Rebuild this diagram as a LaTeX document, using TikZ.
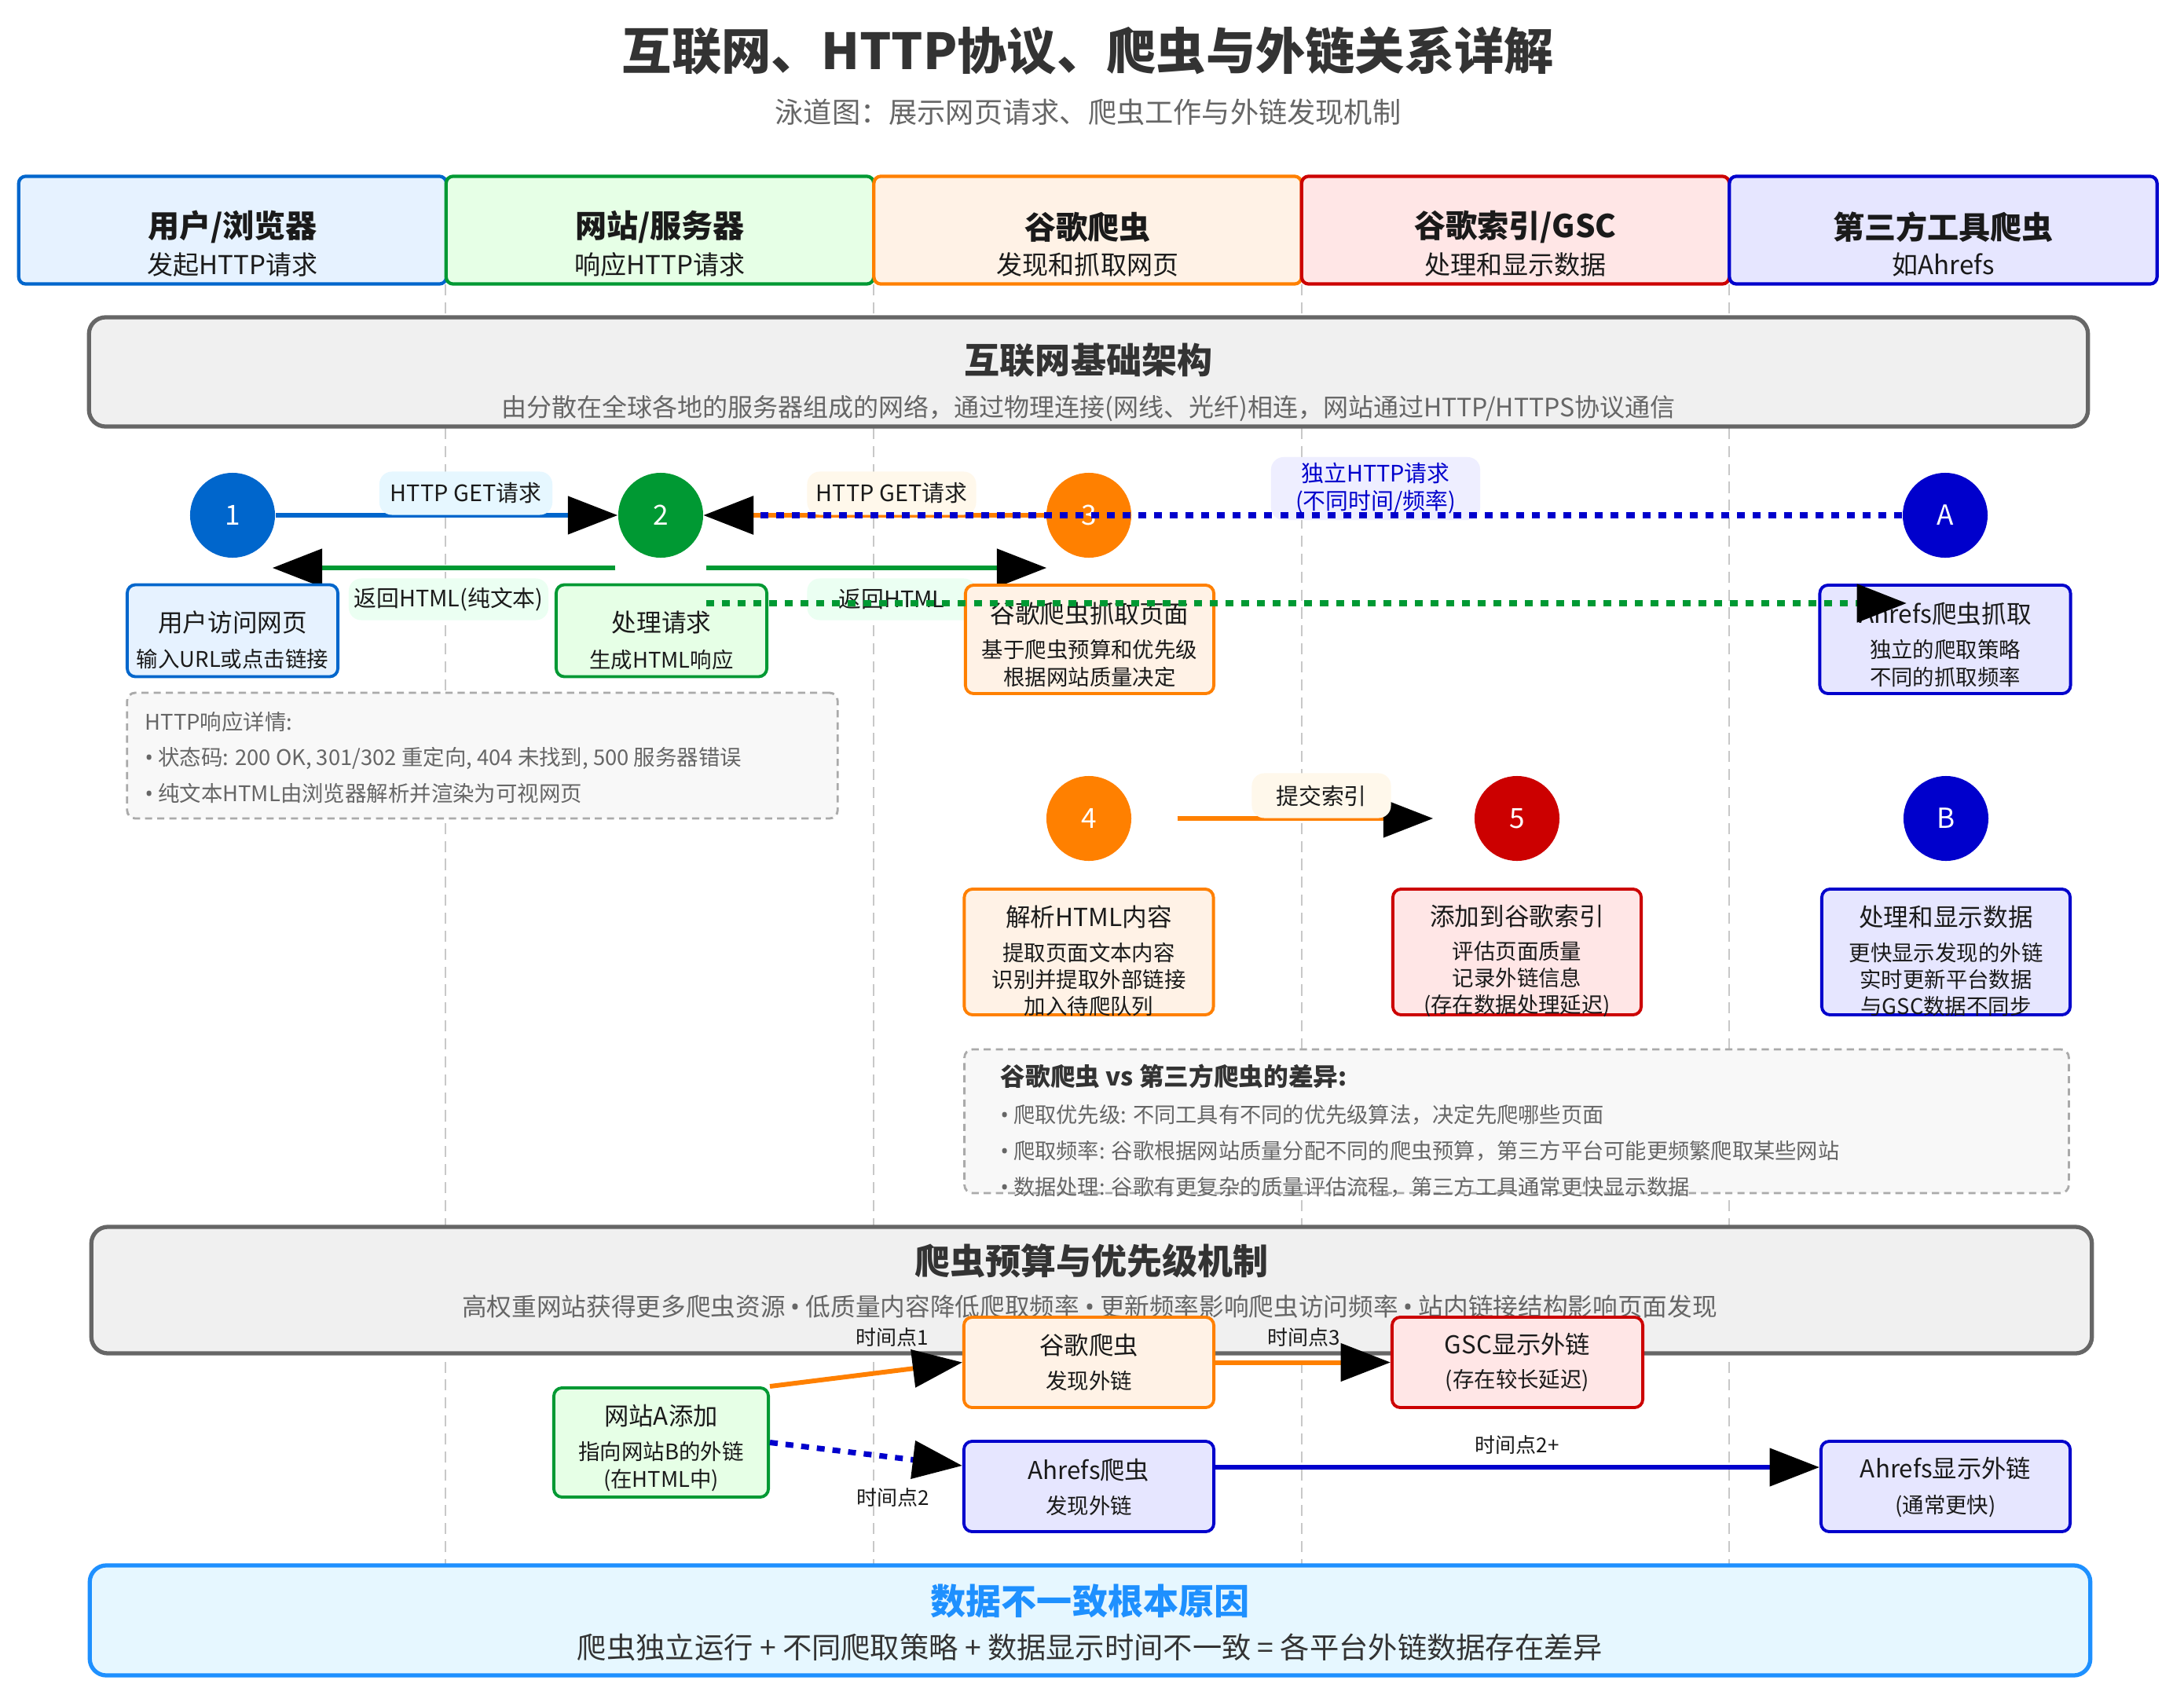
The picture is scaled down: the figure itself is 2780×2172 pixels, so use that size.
\documentclass[tikz,border=0pt]{standalone}
\usepackage{fontspec}
\setmainfont{Noto Sans CJK SC}
\newfontfamily\bulfont{Noto Sans}
\newcommand{\mybul}{{\bulfont •}}
\usetikzlibrary{arrows.meta,calc}
\definecolor{cBlue}{HTML}{0066CC}\definecolor{fBlue}{HTML}{E6F2FF}
\definecolor{cGreen}{HTML}{009933}\definecolor{fGreen}{HTML}{E6FFE6}
\definecolor{cOrange}{HTML}{FF8000}\definecolor{fOrange}{HTML}{FFF2E6}
\definecolor{cRed}{HTML}{CC0000}\definecolor{fRed}{HTML}{FFE6E6}
\definecolor{cNavy}{HTML}{0000CC}\definecolor{fNavy}{HTML}{E6E6FF}
\definecolor{cGrayB}{HTML}{666666}\definecolor{fGray}{HTML}{F0F0F0}
\definecolor{cDash}{HTML}{AAAAAA}\definecolor{fDash}{HTML}{F8F8F8}
\definecolor{cSky}{HTML}{1E90FF}\definecolor{fSky}{HTML}{E6F7FF}
\definecolor{tDark}{HTML}{333333}\definecolor{tGray}{HTML}{666666}\definecolor{tBlack}{HTML}{1A1A1A}
\definecolor{laneC}{HTML}{C8C8C8}
\definecolor{pBlue}{HTML}{E6F7FF}\definecolor{pBeige}{HTML}{FFF8EB}
\definecolor{pMint}{HTML}{EBFFF2}\definecolor{pLav}{HTML}{EEEEFF}
\tikzset{
  hdr/.style 2 args={draw=#1, fill=#2, line width=1.2pt, rounded corners=2.5pt, minimum width=5.44cm, minimum height=1.37cm, inner sep=0pt},
  bigbox/.style 2 args={draw=#1, fill=#2, line width=1.5pt, rounded corners=6pt, inner sep=0pt},
  card/.style 2 args={draw=#1, fill=#2, line width=1.1pt, rounded corners=3pt, inner sep=0pt},
  dashbox/.style={draw=cDash, fill=fDash, line width=0.8pt, dash pattern=on 2.6pt off 1.8pt, rounded corners=3pt, inner sep=0pt},
  pill/.style={fill=#1, rounded corners=4.5pt, inner sep=0pt, font=\fontsize{8.2}{9.96}\selectfont, text=tBlack, align=center},
  numc/.style={circle, fill=#1, minimum size=1.08cm, inner sep=0pt, text=white, font=\fontsize{10}{12}\selectfont},
  aw/.style={-{Triangle[length=18pt,width=13.5pt,color=black,fill=black]}},
  fl/.style={line width=1.7pt},
  dotline/.style={line width=2pt, dash pattern=on 2.85pt off 2.85pt},
  lanel/.style={draw=laneC, line width=0.8pt, dash pattern=on 4pt off 2.5pt},
  htitle/.style={font=\fontsize{11.4}{13}\selectfont\bfseries, text=tBlack, inner sep=0pt},
  hsub/.style={font=\fontsize{9.4}{11}\selectfont, text=tBlack, inner sep=0pt},
  btitle/.style={font=\fontsize{12.8}{15}\selectfont\bfseries, text=tDark, inner sep=0pt},
  bsub/.style={font=\fontsize{9.1}{11}\selectfont, text=tGray, inner sep=0pt},
  ctitle/.style={font=\fontsize{9}{11}\selectfont, text=tBlack, inner sep=0pt},
  csub/.style={font=\fontsize{7.8}{9.96}\selectfont, text=tBlack, inner sep=0pt, align=center},
  csubb/.style={font=\fontsize{7.8}{9.67}\selectfont, text=tBlack, inner sep=0pt, align=center},
  note/.style={font=\fontsize{7.8}{10}\selectfont, text=tGray, inner sep=0pt, anchor=west},
  tlab/.style={font=\fontsize{7.4}{9}\selectfont, text=tBlack, inner sep=0pt},
  ttitle/.style={font=\fontsize{8.9}{11}\selectfont, text=tBlack, inner sep=0pt},
  tsub/.style={font=\fontsize{7.8}{9.96}\selectfont, text=tBlack, inner sep=0pt, align=center}
}
\begin{document}
\begin{tikzpicture}[x=0.01cm,y=-0.01cm]
\path[use as bounding box, fill=white] (0,0) rectangle (2780,2172);

% title
\node[font=\fontsize{18}{21}\selectfont\bfseries, text=tDark, inner sep=0pt] (title) at (1385,65) {互联网、HTTP协议、爬虫与外链关系详解};
\node[font=\fontsize{10.3}{12}\selectfont, text=tGray, inner sep=0pt] (subtitle) at (1385,143) {泳道图：展示网页请求、爬虫工作与外链发现机制};

% lane lines
\foreach \x in {567,1112,1657,2201} \draw[lanel] (\x,362) -- (\x,1993);

% headers
\node[hdr={cBlue}{fBlue}] (h1) at (296,293) {};
\node[htitle] (h1t) at (296,289) {用户/浏览器};
\node[hsub] (h1s) at (296,337) {发起HTTP请求};
\node[hdr={cGreen}{fGreen}] (h2) at (840,293) {};
\node[htitle] (h2t) at (840,289) {网站/服务器};
\node[hsub] (h2s) at (840,337) {响应HTTP请求};
\node[hdr={cOrange}{fOrange}] (h3) at (1384.5,293) {};
\node[htitle] (h3t) at (1384.5,289) {谷歌爬虫};
\node[hsub] (h3s) at (1384.5,337) {发现和抓取网页};
\node[hdr={cRed}{fRed}] (h4) at (1929,293) {};
\node[htitle] (h4t) at (1929,289) {谷歌索引/GSC};
\node[hsub] (h4s) at (1929,337) {处理和显示数据};
\node[hdr={cNavy}{fNavy}] (h5) at (2473.5,293) {};
\node[htitle] (h5t) at (2473.5,289) {第三方工具爬虫};
\node[hsub] (h5s) at (2473.5,337) {如Ahrefs};

% infrastructure
\node[bigbox={cGrayB}{fGray}, minimum width=25.43cm, minimum height=1.39cm] (infra) at (1385.5,473.5) {};
\node[btitle] (infrat) at (1385.5,459) {互联网基础架构};
\node[bsub] (infras) at (1385.5,520) {由分散在全球各地的服务器组成的网络，通过物理连接(网线、光纤)相连，网站通过HTTP/HTTPS协议通信};

% row 1 circles
\node[numc=cBlue] (c1) at (296,656) {1};
\node[numc=cGreen] (c2) at (841,656) {2};
\node[numc=cOrange] (c3) at (1386,656) {3};
\node[numc=cNavy] (cA) at (2476,656) {A};

% row 1 connectors
\draw[fl, cBlue, aw] (c1.east) -- (c2.west);
\draw[fl, cOrange, aw] (c3.west) -- (c2.east);
\draw[fl, cGreen, line width=1.8pt, aw] ($(c2.west)+(-3,67)$) -- ($(c1.east)+(-4,67)$);
\draw[fl, cGreen, line width=1.8pt, aw] ($(c2.east)+(3,67)$) -- ($(c3.west)+(1,67)$);

% labels row 1
\node[pill=pBlue, minimum width=2.2cm, minimum height=0.55cm] (p12) at (593,628) {HTTP GET请求};
\node[pill=pBeige, minimum width=2.15cm, minimum height=0.55cm] (p32) at (1135,628) {HTTP GET请求};
\node[pill=pLav, minimum width=2.66cm, minimum height=0.8cm, text=cNavy] (pA) at (1751,622) {独立HTTP请求\\(不同时间/频率)};
\node[pill=pMint, minimum width=2.54cm, minimum height=0.53cm] (p21) at (571,763) {返回HTML(纯文本)};
\node[pill=pMint, minimum width=2.15cm, minimum height=0.53cm] (p23) at (1135,763) {返回HTML};

\draw[dotline, cNavy, aw] (cA.west) -- (c2.east);

% row 1 boxes
\node[card={cBlue}{fBlue}, minimum width=2.68cm, minimum height=1.17cm] (b1) at (296,803) {};
\node[ctitle] (b1t) at (296,792) {用户访问网页};
\node[csub] (b1s) at (296,839) {输入URL或点击链接};
\node[card={cGreen}{fGreen}, minimum width=2.68cm, minimum height=1.17cm] (b2) at (842,803) {};
\node[ctitle] (b2t) at (842,792) {处理请求};
\node[csub] (b2s) at (842,840) {生成HTML响应};
\node[card={cOrange}{fOrange}, minimum width=3.16cm, minimum height=1.38cm] (b3) at (1387,814) {};
\node[ctitle] (b3t) at (1387,782) {谷歌爬虫抓取页面};
\node[csub] (b3s) at (1387,844.5) {基于爬虫预算和优先级\\根据网站质量决定};
\node[card={cNavy}{fNavy}, minimum width=3.19cm, minimum height=1.38cm] (bA) at (2476,814) {};
\node[ctitle] (bAt) at (2476,782) {Ahrefs爬虫抓取};
\node[csub] (bAs) at (2476,844.5) {独立的爬取策略\\不同的抓取频率};

\coordinate (gEnd) at (2427,768);
\draw[dotline, cGreen, aw] ($(c2.east)+(3,112)$) -- (gEnd);

% HTTP details
\node[dashbox, minimum width=9.04cm, minimum height=1.6cm] (dbox) at (614,962) {};
\node[note] (d1) at (184,919) {HTTP响应详情:};
\node[note] (d2) at (184,965) {\mybul{} 状态码: 200 OK, 301/302 重定向, 404 未找到, 500 服务器错误};
\node[note] (d3) at (184,1010) {\mybul{} 纯文本HTML由浏览器解析并渲染为可视网页};

% row 2
\node[numc=cOrange] (c4) at (1386,1042) {4};
\node[numc=cRed] (c5) at (1931,1042) {5};
\node[numc=cNavy] (cB) at (2477,1042) {B};
\draw[fl, cOrange, aw] ($(c4.east)+(58,0)$) -- ($(c5.west)+(-52,0)$);
\node[pill=pBeige, minimum width=1.77cm, minimum height=0.57cm] (p45) at (1682,1013) {提交索引};

\node[card={cOrange}{fOrange}, minimum width=3.17cm, minimum height=1.6cm] (b4) at (1386,1212) {};
\node[ctitle] (b4t) at (1386,1167) {解析HTML内容};
\node[csubb] (b4s) at (1386,1247) {提取页面文本内容\\识别并提取外部链接\\加入待爬队列};
\node[card={cRed}{fRed}, minimum width=3.16cm, minimum height=1.6cm] (b5) at (1931,1212) {};
\node[ctitle] (b5t) at (1931,1167) {添加到谷歌索引};
\node[csubb] (b5s) at (1931,1247) {评估页面质量\\记录外链信息\\(存在数据处理延迟)};
\node[card={cNavy}{fNavy}, minimum width=3.16cm, minimum height=1.6cm] (bB) at (2477,1212) {};
\node[ctitle] (bBt) at (2477,1167) {处理和显示数据};
\node[csubb] (bBs) at (2477,1247) {更快显示发现的外链\\实时更新平台数据\\与GSC数据不同步};

% differences
\node[dashbox, minimum width=14.05cm, minimum height=1.83cm] (diff) at (1930.5,1427.5) {};
\node[font=\fontsize{9}{11}\selectfont\bfseries, text=tDark, inner sep=0pt, anchor=west] (difft) at (1273,1370) {谷歌爬虫 vs 第三方爬虫的差异:};
\node[note, font=\fontsize{7.75}{10}\selectfont] (dd1) at (1273,1419) {\mybul{} 爬取优先级: 不同工具有不同的优先级算法，决定先爬哪些页面};
\node[note, font=\fontsize{7.75}{10}\selectfont] (dd2) at (1273,1465) {\mybul{} 爬取频率: 谷歌根据网站质量分配不同的爬虫预算，第三方平台可能更频繁爬取某些网站};
\node[note, font=\fontsize{7.75}{10}\selectfont] (dd3) at (1273,1511) {\mybul{} 数据处理: 谷歌有更复杂的质量评估流程，第三方工具通常更快显示数据};

% mechanism
\node[bigbox={cGrayB}{fGray}, minimum width=25.45cm, minimum height=1.61cm] (mech) at (1389.5,1642.5) {};
\node[btitle] (mecht) at (1389.5,1605) {爬虫预算与优先级机制};
\node[bsub, font=\fontsize{9}{12}\selectfont] (mechs) at (1387,1663) {高权重网站获得更多爬虫资源 \mybul{} 低质量内容降低爬取频率 \mybul{} 更新频率影响爬虫访问频率 \mybul{} 站内链接结构影响页面发现};

% timeline
\node[card={cOrange}{fOrange}, minimum width=3.18cm, minimum height=1.15cm] (G) at (1386,1734.5) {};
\node[ttitle] (Gt) at (1386,1713) {谷歌爬虫};
\node[tsub] (Gs) at (1386,1758) {发现外链};
\node[card={cRed}{fRed}, minimum width=3.19cm, minimum height=1.15cm] (GSC) at (1931.5,1734.5) {};
\node[ttitle] (GSCt) at (1931.5,1712) {GSC显示外链};
\node[tsub] (GSCs) at (1931.5,1758) {(存在较长延迟)};
\node[card={cGreen}{fGreen}, minimum width=2.73cm, minimum height=1.39cm] (W) at (841.5,1836.5) {};
\node[ttitle] (Wt) at (841.5,1803) {网站A添加};
\node[tsub] (Ws) at (841.5,1867.5) {指向网站B的外链\\(在HTML中)};
\node[card={cNavy}{fNavy}, minimum width=3.18cm, minimum height=1.15cm] (AC) at (1386,1892.5) {};
\node[ttitle] (ACt) at (1386,1872) {Ahrefs爬虫};
\node[tsub] (ACs) at (1386,1917) {发现外链};
\node[card={cNavy}{fNavy}, minimum width=3.17cm, minimum height=1.15cm] (AD) at (2476.5,1892.5) {};
\node[ttitle] (ADt) at (2476.5,1870) {Ahrefs显示外链};
\node[tsub] (ADs) at (2476.5,1918) {(通常更快)};

\draw[fl, cOrange, aw] (W.north east) -- (G.west);
\draw[dotline, cNavy, aw] (W.east) -- ($(AC.north west)+(0,33)$);
\draw[fl, cOrange, aw] (G.east) -- (GSC.west);
\draw[fl, cNavy, aw] ($(AC.north east)+(0,35)$) -- ($(AD.north west)+(0,35)$);
\node[tlab] (t1) at (1136,1703) {时间点1};
\node[tlab] (t2) at (1137,1907) {时间点2};
\node[tlab] (t3) at (1660,1703) {时间点3};
\node[tlab] (t2p) at (1931,1840) {时间点2+};

% conclusion
\node[bigbox={cSky}{fSky}, minimum width=25.45cm, minimum height=1.4cm] (concl) at (1387.5,2063) {};
\node[font=\fontsize{12.8}{15}\selectfont\bfseries, text=cSky, inner sep=0pt] (conclt) at (1387.5,2038) {数据不一致根本原因};
\node[font=\fontsize{10.6}{13}\selectfont, text=tDark, inner sep=0pt] (concls) at (1387.5,2097) {爬虫独立运行 + 不同爬取策略 + 数据显示时间不一致 = 各平台外链数据存在差异};
\end{tikzpicture}
\end{document}
